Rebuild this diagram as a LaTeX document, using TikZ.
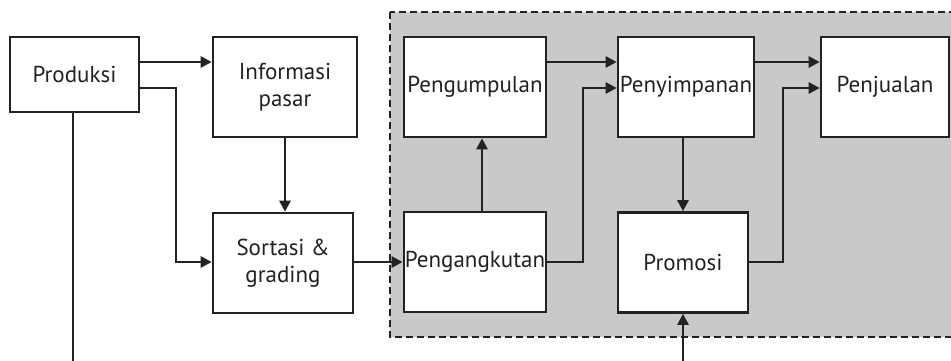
\documentclass[tikz,border=0pt]{standalone}
\usepackage{fontspec}
\setmainfont{PT Sans}
\usetikzlibrary{arrows.meta}
\definecolor{inkline}{HTML}{222222}
\definecolor{panelgray}{HTML}{C8C9CB}
\begin{document}
\begin{tikzpicture}[x=1pt,y=-1pt,
  box/.style={draw=inkline, line width=2.6pt, fill=white, inner sep=1pt,
    align=center, font=\fontsize{23}{27}\selectfont, text=inkline},
  arr/.style={draw=inkline, line width=2.6pt, -{Triangle[length=11pt,width=11pt]}},
  panel/.style={fill=panelgray, draw=inkline, line width=2.4pt, dash pattern=on 7pt off 4pt}]
\useasboundingbox (0,0) rectangle (951,360);
\clip (0,0) rectangle (951,360);

% shaded area holding the distribution steps
\path[panel] (390,12) rectangle (975,337);

% row and column guides for the connectors
\coordinate (r1) at (0,62);
\coordinate (r2) at (0,88);
\coordinate (r3) at (0,262);
\coordinate (c1) at (176,0);
\coordinate (c2) at (482,0);
\coordinate (c3) at (583,0);
\coordinate (c4) at (683,0);
\coordinate (c5) at (783,0);
\coordinate (low) at (73,400);

% boxes
\node[box, minimum width=129pt, minimum height=75pt] (prod) at (74.5,74.5) {Produksi};
\node[box, minimum width=144pt, minimum height=100pt] (info) at (285,87) {Informasi\\pasar};
\node[box, minimum width=140pt, minimum height=100pt] (sort) at (283,263) {Sortasi \&\\grading};
\node[box, minimum width=142pt, minimum height=100pt] (kumpul) at (475,87) {Pengumpulan};
\node[box, minimum width=142pt, minimum height=100pt] (angkut) at (475,262) {Pengangkutan};
\node[box, minimum width=136pt, minimum height=100pt] (simpan) at (686,87) {Penyimpanan};
\node[box, minimum width=130pt, minimum height=100pt] (promo) at (683,262.5) {Promosi};
\node[box, minimum width=128pt, minimum height=100pt] (jual) at (885,87) {Penjualan};

% connectors
\draw[arr] (prod.east |- r1) -- (info.west |- r1);
\draw[arr] (prod.east |- r2) -| (c1 |- r3) -- (sort.west |- r3);
\draw[arr] (info.south) -- (info.south |- sort.north);
\draw[arr] (sort.east |- r3) -- (angkut.west |- r3);
\draw[arr] (angkut.north -| c2) -- (kumpul.south -| c2);
\draw[arr] (kumpul.east |- r1) -- (simpan.west |- r1);
\draw[arr] (angkut.east |- r3) -| (c3 |- r2) -- (simpan.west |- r2);
\draw[arr] (simpan.south -| c4) -- (promo.north -| c4);
\draw[arr] (simpan.east |- r1) -- (jual.west |- r1);
\draw[arr] (promo.east |- r3) -| (c5 |- r2) -- (jual.west |- r2);
\draw[arr] (prod.south -| low) -- (low) -| (promo.south -| c4);
\end{tikzpicture}
\end{document}
